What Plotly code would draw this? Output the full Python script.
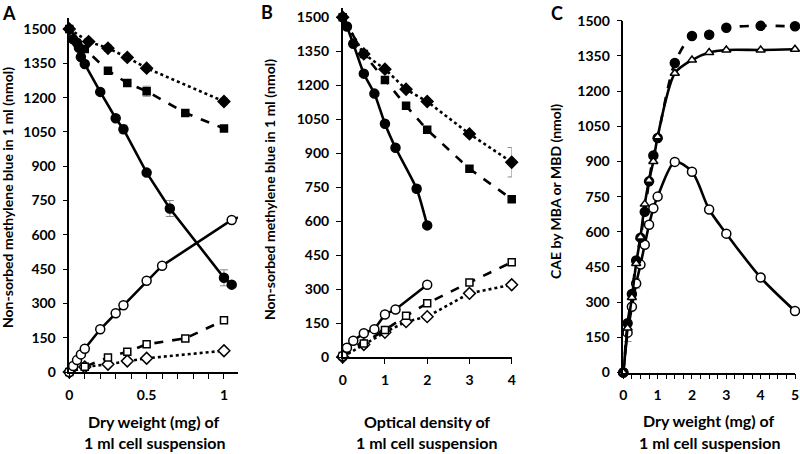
import plotly.graph_objects as go

# ---------------- Panel A (x: dry weight, mg) ----------------
a_fc_x = [0.025, 0.05, 0.0625, 0.075, 0.1, 0.2, 0.3, 0.35, 0.5, 0.65, 1.0, 1.05]
a_fc_y = [1455, 1440, 1418, 1378, 1347, 1225, 1110, 1062, 872, 715, 412, 382]
a_fc_e = [0, 0, 0, 0, 0, 0, 0, 18, 0, 35, 35, 0]
a_fs_x = [0, 0.1, 0.25, 0.375, 0.5, 0.75, 1.0]
a_fs_y = [1500, 1413, 1318, 1264, 1228, 1133, 1065]
a_fs_e = [0, 0, 0, 0, 22, 0, 0]
a_fd_x = [0, 0.125, 0.25, 0.375, 0.5, 1.0]
a_fd_y = [1500, 1445, 1416, 1376, 1329, 1183]
a_fd_e = [0, 0, 14, 0, 0, 14]
a_oc_x = [0, 0.025, 0.05, 0.075, 0.1, 0.2, 0.3, 0.35, 0.5, 0.6, 1.05, 1.1]
a_oc_y = [0, 26, 52, 77, 102, 187, 257, 292, 399, 465, 665, 677]
a_os_x = [0, 0.1, 0.25, 0.375, 0.5, 0.75, 1.0]
a_os_y = [0, 23, 63, 89, 121, 147, 226]
a_od_x = [0, 0.1, 0.25, 0.375, 0.5, 1.0]
a_od_y = [0, 22, 34, 48, 60, 93]
a_xtickvals = [0, 0.1, 0.2, 0.3, 0.4, 0.5, 0.6, 0.7, 0.8, 0.9, 1.0]
a_xticktext = ["0", "", "", "", "", "0.5", "", "", "", "", "1"]

# ---------------- Panel B (x: optical density) ----------------
b_fc_x = [0.1, 0.25, 0.5, 0.75, 1.0, 1.25, 1.75, 2.0]
b_fc_y = [1459, 1383, 1251, 1163, 1030, 924, 743, 581]
b_fc_e = [0, 0, 0, 0, 0, 0, 15, 0]
b_fs_x = [0, 0.5, 1, 1.5, 2, 3, 4]
b_fs_y = [1500, 1338, 1223, 1109, 1003, 831, 697]
b_fd_x = [0, 0.5, 1, 1.5, 2, 3, 4]
b_fd_y = [1500, 1338, 1271, 1182, 1128, 985, 860]
b_fd_e = [0, 0, 0, 0, 0, 0, 65]
b_oc_x = [0, 0.1, 0.25, 0.5, 0.75, 1.0, 1.25, 2.0]
b_oc_y = [4, 41, 72, 105, 123, 188, 210, 319]
b_os_x = [0, 0.5, 1, 1.5, 2, 3, 4]
b_os_y = [4, 60, 119, 182, 237, 329, 418]
b_od_x = [0, 0.5, 1, 1.5, 2, 3, 4]
b_od_y = [0, 55, 109, 156, 178, 281, 319]

# ---------------- Panel C (x: dry weight, mg) ----------------
c_x = [0, 0.125, 0.25, 0.375, 0.5, 0.625, 0.75, 0.875, 1.0, 1.5, 2, 2.5, 3, 4, 5]
c_fc_y = [0, 210, 335, 478, 575, 685, 815, 925, 1000, 1320, 1435, 1440, 1470, 1478, 1476]
c_tr_y = [0, 190, 320, 465, 578, 718, 820, 900, 1005, 1276, 1332, 1364, 1375, 1375, 1378]
c_oc_y = [0, 170, 280, 380, 460, 545, 630, 700, 750, 898, 856, 695, 592, 405, 262]
c_oc_e = [0, 38, 0, 20, 0, 0, 0, 0, 0, 0, 0, 0, 0, 0, 0]
c_xtickvals = [i * 0.25 for i in range(21)]
c_xticktext = [str(int(v)) if v == int(v) else "" for v in c_xtickvals]

y_ticks = [0, 150, 300, 450, 600, 750, 900, 1050, 1200, 1350, 1500]

FONT = "Lato"
BLACK = "#000000"
GRAY = "#8a8a8a"

fig = go.Figure()


def add(x, y, xa, ya, symbol, filled, dash, err=None, size=9, shape="linear", smooth=None):
    line = dict(color=BLACK, width=2.6, dash=dash, shape=shape)
    if smooth is not None:
        line["smoothing"] = smooth
    tr = go.Scatter(
        x=x, y=y, xaxis=xa, yaxis=ya, mode="lines+markers",
        line=line,
        marker=dict(symbol=symbol, size=size,
                    color=BLACK if filled else "white",
                    line=dict(color=BLACK, width=1.5)),
        cliponaxis=False, showlegend=False,
    )
    if err is not None:
        tr.error_y = dict(type="data", array=err, color=GRAY, thickness=1, width=4, visible=True)
    fig.add_trace(tr)


# Panel A
add(a_od_x, a_od_y, "x", "y", "diamond", False, "dot", size=9)
add(a_os_x, a_os_y, "x", "y", "square", False, "dash", size=7)
add(a_oc_x, a_oc_y, "x", "y", "circle", False, "solid", size=9)
add(a_fd_x, a_fd_y, "x", "y", "diamond", True, "dot", err=a_fd_e, size=9)
add(a_fs_x, a_fs_y, "x", "y", "square", True, "dash", err=a_fs_e, size=7)
add(a_fc_x, a_fc_y, "x", "y", "circle", True, "solid", err=a_fc_e, size=9)

# Panel B
add(b_od_x, b_od_y, "x2", "y2", "diamond", False, "dot", size=9)
add(b_os_x, b_os_y, "x2", "y2", "square", False, "dash", size=7)
add(b_oc_x, b_oc_y, "x2", "y2", "circle", False, "solid", size=9)
add(b_fd_x, b_fd_y, "x2", "y2", "diamond", True, "dot", err=b_fd_e, size=9)
add(b_fs_x, b_fs_y, "x2", "y2", "square", True, "dash", size=7)
add(b_fc_x, b_fc_y, "x2", "y2", "circle", True, "solid", err=b_fc_e, size=9, shape="spline", smooth=0.6)

# Panel C
add(c_x, c_oc_y, "x3", "y3", "circle", False, "solid", err=c_oc_e, size=9, shape="spline", smooth=0.8)
add(c_x, c_fc_y, "x3", "y3", "circle", True, "dash", size=9, shape="spline", smooth=0.8)
add(c_x, c_tr_y, "x3", "y3", "triangle-up", False, "solid", size=8, shape="spline", smooth=0.8)

W, H = 800, 454


def px_x(p):
    return p / W


def px_y(p):
    return (H - p) / H


tickfont = dict(family=FONT, size=14, color=BLACK, weight="bold")
axis_common = dict(
    showgrid=False, zeroline=False, showline=True, linecolor=BLACK, linewidth=1.5,
    ticks="outside", ticklen=5, tickwidth=1.2, tickcolor=BLACK, tickfont=tickfont,
    ticklabelstandoff=4, automargin=False,
)

fig.update_layout(
    template="none",
    width=W, height=H, autosize=False,
    margin=dict(l=0, r=0, t=0, b=0, pad=0),
    paper_bgcolor="white", plot_bgcolor="white",
    font=dict(family=FONT, color=BLACK),
    xaxis=dict(axis_common, domain=[px_x(69.3), px_x(237.9)], range=[0, 1.09],
               tickvals=a_xtickvals, ticktext=a_xticktext, anchor="y"),
    yaxis=dict(axis_common, domain=[px_y(372), px_y(17.6)], range=[0, 1550],
               tickvals=y_ticks, anchor="x"),
    xaxis2=dict(axis_common, domain=[px_x(342.7), px_x(511.7)], range=[0, 4],
                tickvals=[0, 1, 2, 3, 4], anchor="y2"),
    yaxis2=dict(axis_common, domain=[px_y(357), px_y(8.2)], range=[0, 1540],
                tickvals=y_ticks, anchor="x2"),
    xaxis3=dict(axis_common, domain=[px_x(623.3), px_x(795)], range=[0, 5],
                tickvals=c_xtickvals, ticktext=c_xticktext, anchor="y3"),
    yaxis3=dict(axis_common, domain=[px_y(372.5), px_y(20.7)], range=[0, 1500],
                tickvals=y_ticks, anchor="x3"),
)

ytitle_font = dict(family=FONT, size=14, color=BLACK, weight="bold")
xtitle_font = dict(family=FONT, size=16, color=BLACK, weight="bold")
letter_font = dict(family=FONT, size=18, color=BLACK, weight="bold")

annotations = [
    # panel letters
    dict(text="A", x=px_x(9), y=px_y(13), font=letter_font),
    dict(text="B", x=px_x(267), y=px_y(12), font=letter_font),
    dict(text="C", x=px_x(557), y=px_y(13), font=letter_font),
    # y titles
    dict(text="Non-sorbed methylene blue in 1 ml (nmol)", x=px_x(8), y=px_y(198),
         textangle=-90, font=ytitle_font),
    dict(text="Non-sorbed methylene blue in 1 ml (nmol)", x=px_x(269), y=px_y(190),
         textangle=-90, font=ytitle_font),
    dict(text="CAE by MBA or MBD (nmol)", x=px_x(556), y=px_y(192),
         textangle=-90, font=ytitle_font),
    # x titles
    dict(text="Dry weight (mg) of", x=px_x(154), y=px_y(421), font=xtitle_font),
    dict(text="1 ml cell suspension", x=px_x(154), y=px_y(442), font=xtitle_font),
    dict(text="Optical density of", x=px_x(427), y=px_y(421), font=xtitle_font),
    dict(text="1 ml cell suspension", x=px_x(427), y=px_y(442), font=xtitle_font),
    dict(text="Dry weight (mg) of", x=px_x(709), y=px_y(420), font=xtitle_font),
    dict(text="1 ml cell suspension", x=px_x(709), y=px_y(442), font=xtitle_font),
]
for a in annotations:
    a.update(xref="paper", yref="paper", showarrow=False, xanchor="center", yanchor="middle")
fig.update_layout(annotations=annotations)

fig.write_html("out.html", config={"displayModeBar": False},
               post_script="document.body.style.margin='0';")
